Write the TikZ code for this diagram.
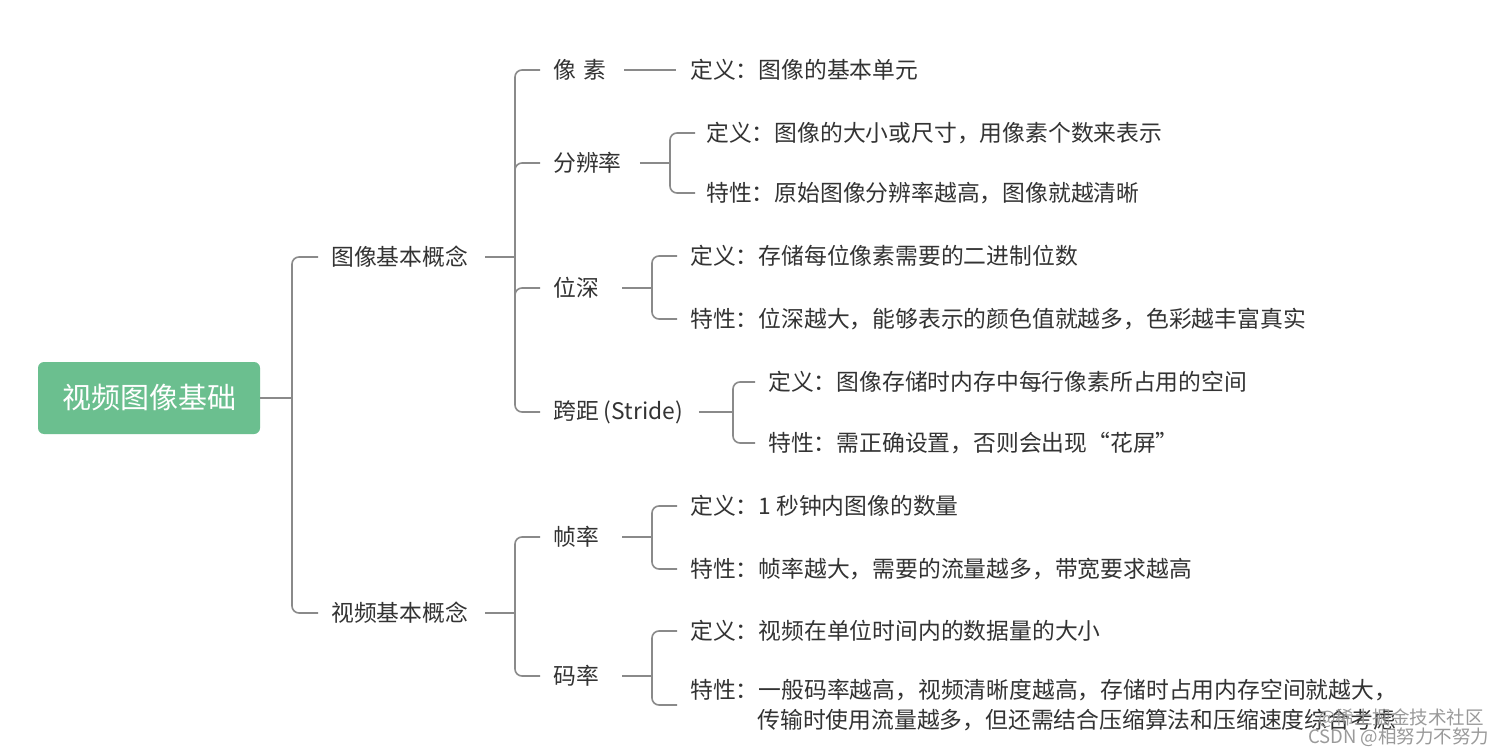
\documentclass[tikz,border=0pt]{standalone}
\usepackage{fontspec}
\setmainfont{Noto Sans CJK SC}
\newfontfamily\cjk{Noto Sans CJK SC}
\definecolor{rootgreen}{HTML}{6BBF8F}
\definecolor{txtgray}{HTML}{333333}
\definecolor{linegray}{HTML}{8A8A8A}
\definecolor{wmgray}{HTML}{9A9A9A}
\begin{document}
\begin{tikzpicture}[x=1pt,y=-1pt,
  rootbox/.style={fill=rootgreen,rounded corners=6pt,minimum width=222pt,minimum height=72pt,inner sep=0pt,text=white,font=\cjk\fontsize{29}{32}\selectfont},
  lvtxt/.style={anchor=west,inner sep=0pt,text=txtgray,font=\cjk\fontsize{22.8}{30}\selectfont},
  conn/.style={draw=linegray,line width=1.6pt},
  fork/.style={conn,rounded corners=7pt},
  wm/.style={anchor=west,inner sep=0pt,text=wmgray,font=\cjk\fontsize{18.5}{20}\selectfont}]
\useasboundingbox (0,0) rectangle (1512,751);
\fill[white] (0,0) rectangle (1512,751);

% root
\node[rootbox] (root) at (149,398) {视频图像基础};

% level 1
\node[lvtxt] (img) at (331,257) {图像基本概念};
\node[lvtxt] (vid) at (331,613) {视频基本概念};

% level 2
\node[lvtxt] (px)  at (553,70)  {像\hspace{8pt}素};
\node[lvtxt] (res) at (553,163) {分辨率};
\node[lvtxt] (dep) at (553,288) {位深};
\node[lvtxt] (str) at (553,412) {跨距 (Stride)};
\node[lvtxt] (fps) at (553,537) {帧率};
\node[lvtxt] (br)  at (553,676) {码率};

% leaves
\node[lvtxt] (pxd)  at (690,70)  {定义：图像的基本单元};
\node[lvtxt] (resd) at (706,133) {定义：图像的大小或尺寸，用像素个数来表示};
\node[lvtxt] (rest) at (706,193) {特性：原始图像分辨率越高，图像就越清晰};
\node[lvtxt] (depd) at (690,256) {定义：存储每位像素需要的二进制位数};
\node[lvtxt] (dept) at (690,319) {特性：位深越大，能够表示的颜色值就越多，色彩越丰富真实};
\node[lvtxt] (strd) at (768,382) {定义：图像存储时内存中每行像素所占用的空间};
\node[lvtxt] (strt) at (768,443) {特性：需正确设置，否则会出现“花屏”};
\node[lvtxt] (fpsd) at (690,506) {定义：1 秒钟内图像的数量};
\node[lvtxt] (fpst) at (690,569) {特性：帧率越大，需要的流量越多，带宽要求越高};
\node[lvtxt] (brd)  at (690,631) {定义：视频在单位时间内的数据量的大小};
\node[lvtxt,align=left] (brt) at (690,705) {特性：一般码率越高，视频清晰度越高，存储时占用内存空间就越大，\\\hspace*{2.95em}传输时使用流量越多，但还需结合压缩算法和压缩速度综合考虑};

% junctions
\coordinate (j0) at (292,398);
\coordinate (j1) at (515,257);
\coordinate (j2) at (515,613);
\coordinate (jr) at (670,163);
\coordinate (jd) at (652,288);
\coordinate (js) at (733,412);
\coordinate (jf) at (652,537);
\coordinate (jb) at (652,676);

% root -> level 1
\draw[conn] (root.east) -- (j0);
\draw[fork] ([xshift=-13pt]img.west) -| (j0) |- ([xshift=-13pt]vid.west);

% 图像基本概念 -> children
\draw[conn] ([xshift=17pt]img.east) -- (j1);
\draw[fork] ([xshift=-13pt]px.west) -| (j1) |- ([xshift=-13pt]str.west);
\draw[fork] ([yshift=-12pt]j1 |- res.west) |- ([xshift=-13pt]res.west);
\draw[fork] ([yshift=-12pt]j1 |- dep.west) |- ([xshift=-13pt]dep.west);

% 视频基本概念 -> children
\draw[conn] ([xshift=17pt]vid.east) -- (j2);
\draw[fork] ([xshift=-13pt]fps.west) -| (j2) |- ([xshift=-13pt]br.west);

% 像素 -> leaf
\draw[conn] ([xshift=17pt]px.east) -- ([xshift=-14pt]pxd.west);

% 分辨率
\draw[conn] ([xshift=18pt]res.east) -- (jr);
\draw[fork] ([xshift=-11pt]resd.west) -| (jr) |- ([xshift=-11pt]rest.west);

% 位深
\draw[conn] ([xshift=23pt]dep.east) -- (jd);
\draw[fork] ([xshift=-13pt]depd.west) -| (jd) |- ([xshift=-13pt]dept.west);

% 跨距
\draw[conn] ([xshift=16pt]str.east) -- (js);
\draw[fork] ([xshift=-13pt]strd.west) -| (js) |- ([xshift=-13pt]strt.west);

% 帧率
\draw[conn] ([xshift=23pt]fps.east) -- (jf);
\draw[fork] ([xshift=-13pt]fpsd.west) -| (jf) |- ([xshift=-13pt]fpst.west);

% 码率
\draw[conn] ([xshift=23pt]br.east) -- (jb);
\draw[fork] ([xshift=-13pt]brd.west) -| (jb) |- ([xshift=-13pt]brt.west);

% watermark
\node[wm] (wm1) at (1318,718) {@稀土掘金技术社区};
\node[wm] (wm2) at (1308,737) {CSDN @相努力不努力};
\end{tikzpicture}
\end{document}
